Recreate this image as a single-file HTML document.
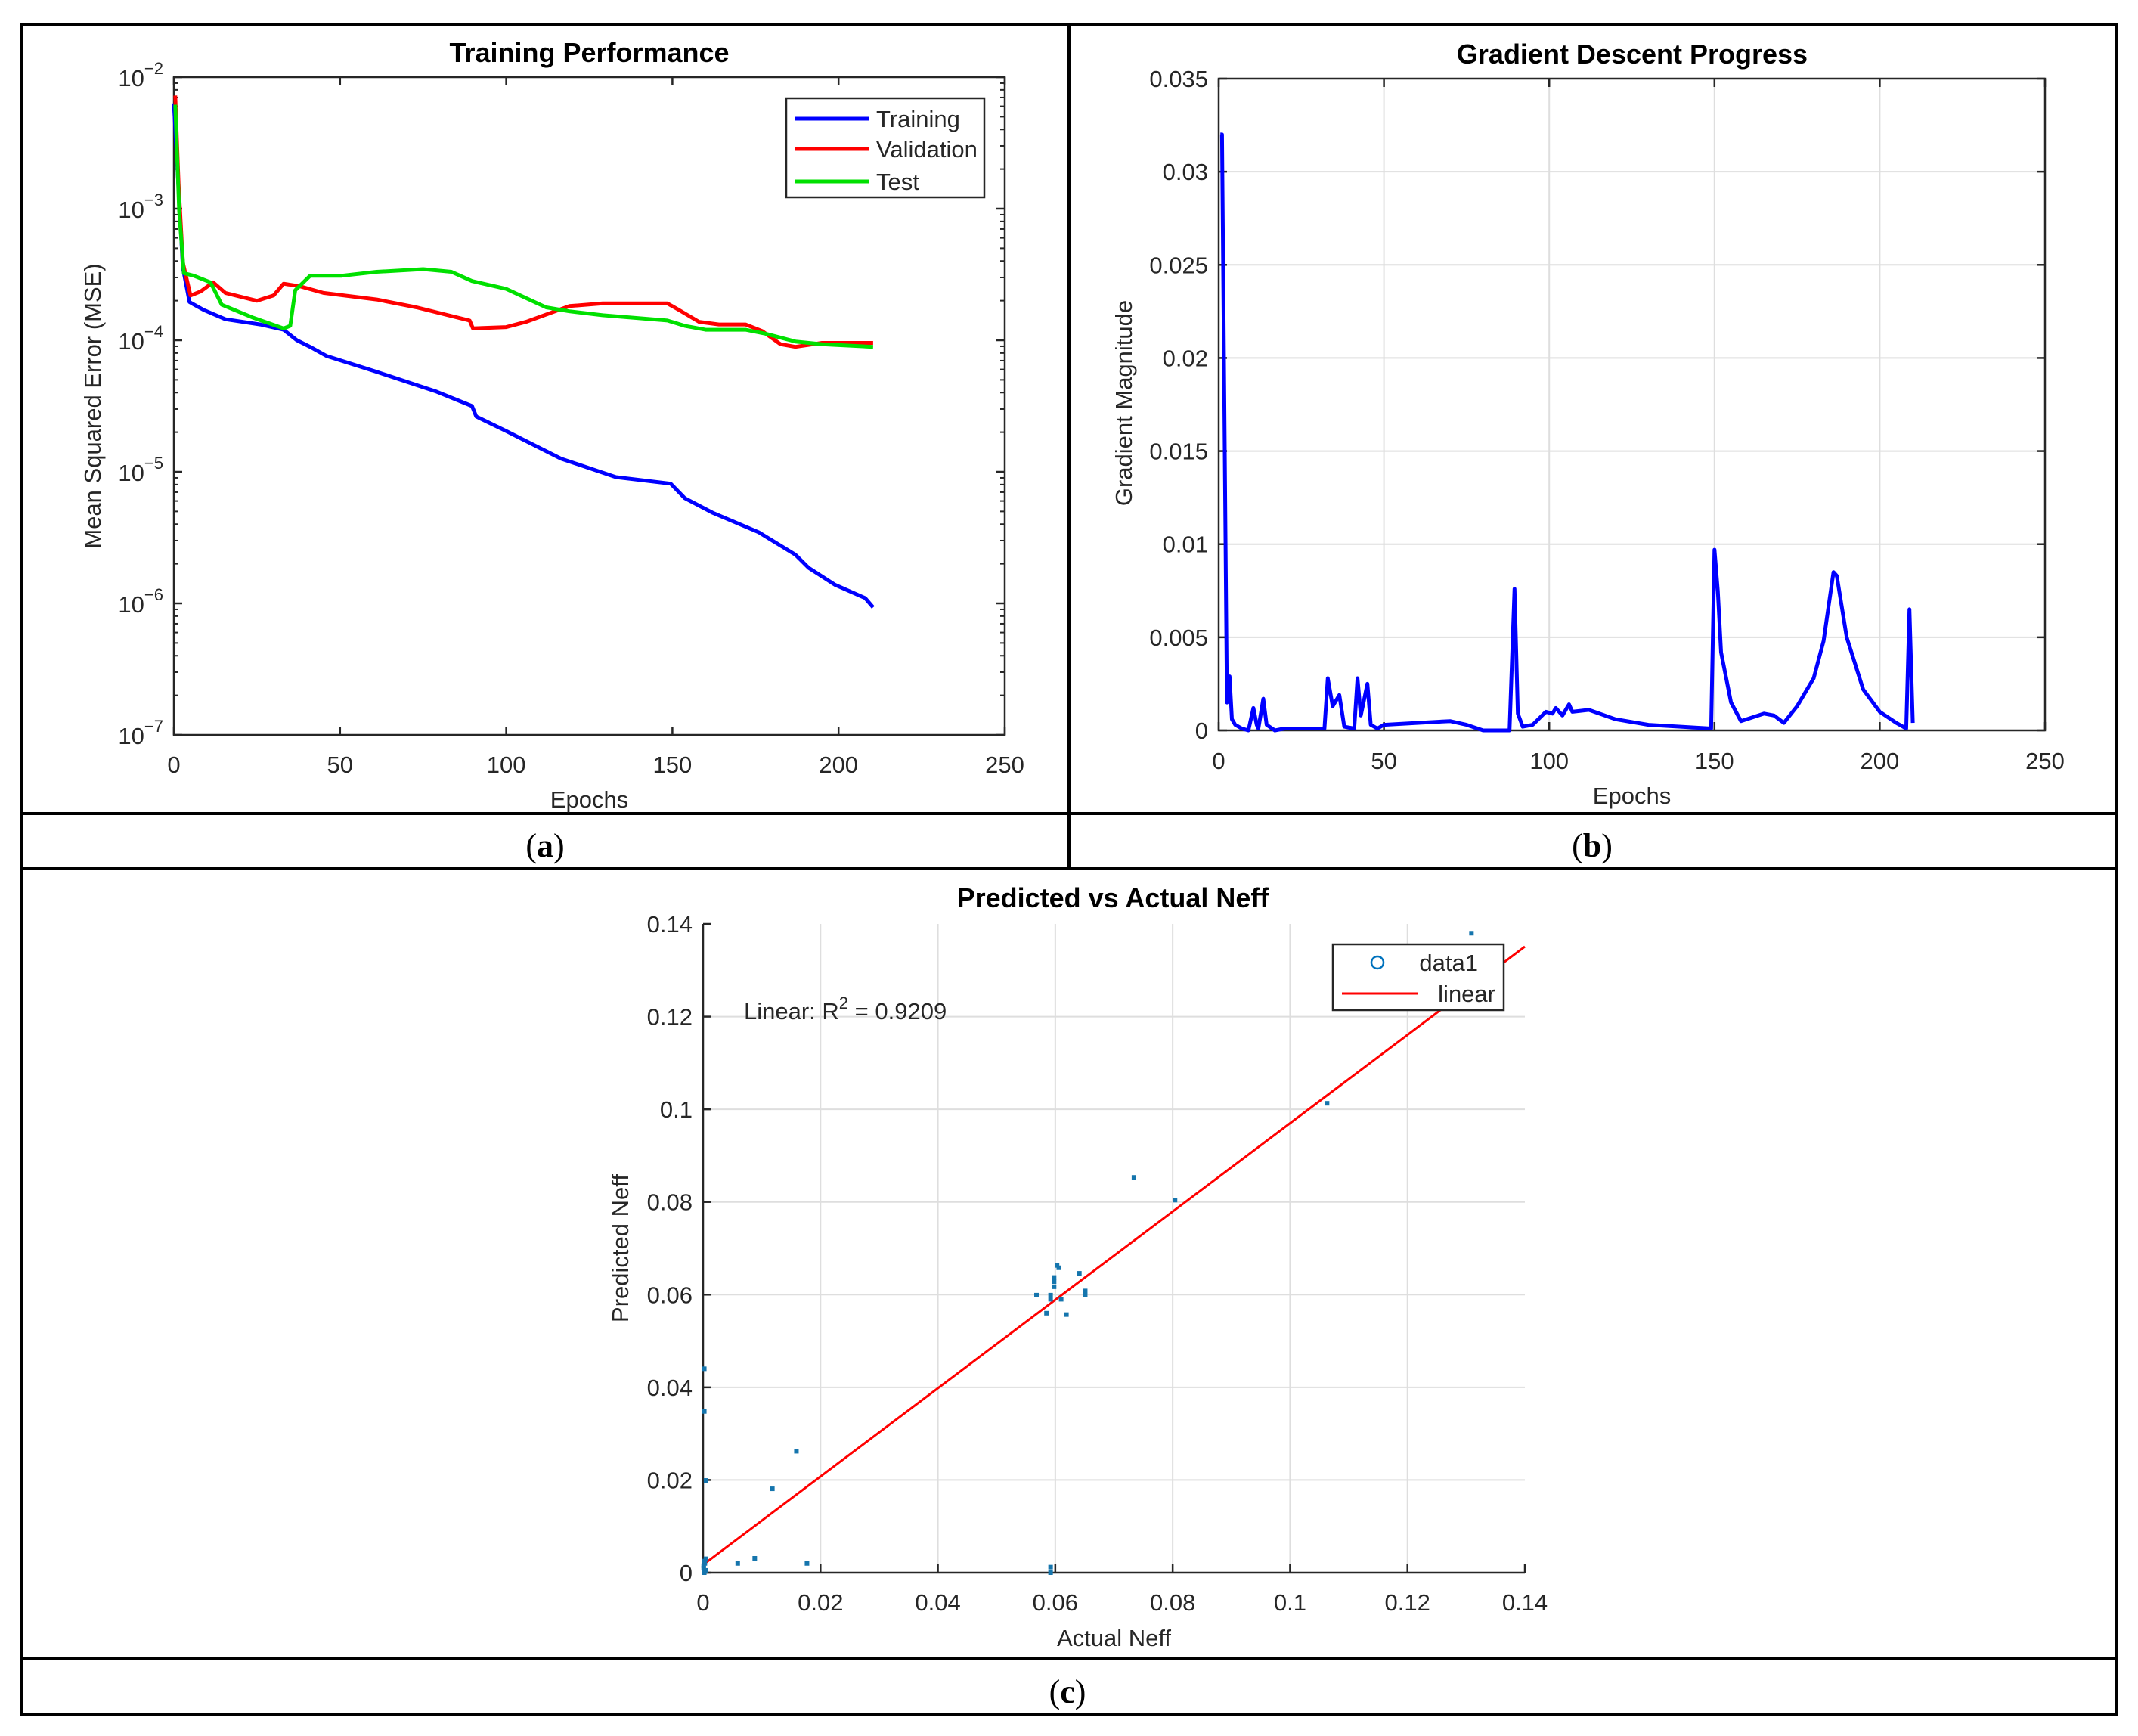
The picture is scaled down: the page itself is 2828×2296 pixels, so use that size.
<!DOCTYPE html>
<html><head><meta charset="utf-8"><style>
html,body{margin:0;padding:0;background:#fff}
svg{display:block}
text{font-family:"Liberation Sans",Arial,sans-serif;fill:#262626}
.t{font-size:31px}
.ttl{font-size:36px;font-weight:bold;fill:#000}
.cap{font-family:"Liberation Serif",serif;font-size:44px;fill:#000}
</style></head><body>
<svg id="s" width="2828" height="2296" viewBox="0 0 2828 2296" xmlns="http://www.w3.org/2000/svg">
<g stroke="#000" stroke-width="4" fill="none">
<rect x="29" y="32" width="2770" height="2235"/>
<line x1="29" y1="1076" x2="2799" y2="1076"/>
<line x1="29" y1="1149" x2="2799" y2="1149"/>
<line x1="29" y1="2193" x2="2799" y2="2193"/>
<line x1="1414" y1="32" x2="1414" y2="1149"/>
</g>
<text class="cap" x="721" y="1133" text-anchor="middle">(<tspan font-weight="bold">a</tspan>)</text>
<text class="cap" x="2106" y="1133" text-anchor="middle">(<tspan font-weight="bold">b</tspan>)</text>
<text class="cap" x="1412" y="2252" text-anchor="middle">(<tspan font-weight="bold">c</tspan>)</text>
<g id="ga"></g>
<g id="gb"></g>
<g id="gc"></g>
</svg>
<script>
// ---- chart a data ----
const trainEpochs=[0,2.7,4.7,9,15.5,26,33,37,41,46,61,79,89.7,91,100,116.5,133,149.5,153.7,162,176,187,191,199,208,210.4];
const trainLog=[-2.2,-3.45,-3.71,-3.77,-3.84,-3.88,-3.92,-4.0,-4.05,-4.12,-4.24,-4.39,-4.5,-4.58,-4.69,-4.9,-5.04,-5.09,-5.2,-5.31,-5.46,-5.63,-5.73,-5.86,-5.96,-6.03];
const valEpochs=[0.4,1.4,2.7,5,8,11.8,15.5,25,30,33,38,45,61,73,89,90,100,106,119,129,148.5,152,158,164,172,177,182.5,187,195,210.4];
const valLog=[-2.14,-2.81,-3.41,-3.66,-3.63,-3.56,-3.64,-3.70,-3.66,-3.57,-3.59,-3.64,-3.69,-3.75,-3.85,-3.91,-3.90,-3.86,-3.74,-3.72,-3.72,-3.77,-3.86,-3.88,-3.88,-3.93,-4.03,-4.05,-4.02,-4.02];
const testEpochs=[0.4,1.6,3,6,11,14.4,24,33,35,36.5,41,50.5,61,75,83.5,89.7,100,112,119,129,148.5,153.7,160,172,178,187,195,210.4];
const testLog=[-2.21,-3.02,-3.49,-3.51,-3.56,-3.73,-3.83,-3.91,-3.89,-3.62,-3.51,-3.51,-3.48,-3.46,-3.48,-3.55,-3.61,-3.75,-3.78,-3.81,-3.85,-3.89,-3.92,-3.92,-3.95,-4.01,-4.03,-4.05];
const aXTicks=[0,50,100,150,200,250];
const aYExps=[-2,-3,-4,-5,-6,-7];
// ---- chart b data ----
const gradEpochs=[0.5,1,2.5,3.3,4,5,7,9,10.5,11.5,12,13.5,14.5,17,20,32,33,34.5,36.5,38,41,42,43,45,46,48,50,60,70,75,80,88,89.5,90.5,92,95,99,101,102,104,106,107,112,120,130,149,150,151,152,155,158,165,168,171,175,180,183,186,187,190,195,200,205,208,209,210];
const gradVals=[0.032,0.032,0.0015,0.0029,0.0006,0.0003,0.0001,0.0,0.0012,0.0003,0.0001,0.0017,0.0003,0.0,0.0001,0.0001,0.0028,0.0013,0.0019,0.0002,0.0001,0.0028,0.0008,0.0025,0.0003,0.0001,0.0003,0.0004,0.0005,0.0003,0.0,0.0,0.0076,0.0009,0.0002,0.0003,0.0010,0.0009,0.0012,0.0008,0.0014,0.0010,0.0011,0.0006,0.0003,0.0001,0.0097,0.0075,0.0042,0.0015,0.0005,0.0009,0.0008,0.0004,0.0013,0.0028,0.0048,0.0085,0.0083,0.0050,0.0022,0.0010,0.0004,0.0001,0.0065,0.0004];
const bXTicks=[0,50,100,150,200,250];
const bYTicks=[0,0.005,0.01,0.015,0.02,0.025,0.03,0.035];
const bYLabels=["0","0.005","0.01","0.015","0.02","0.025","0.03","0.035"];
// ---- chart c data ----
const actualVals=[0.1309,0.1063,0.0734,0.0804,0.0603,0.0606,0.0598,0.0598,0.0598,0.0641,0.0568,0.0592,0.0592,0.061,0.0651,0.0651,0.0585,0.0619,0.0592,0.0592,0.0002,0.0002,0.0005,0.0159,0.0118,0.0088,0.0059,0.0177,0.0002,0.0003,0.0001,0.0004,0.0002,0.0005,0.0001];
const predictedVals=[0.1380,0.1013,0.0853,0.0804,0.0663,0.0658,0.0637,0.0628,0.0617,0.0646,0.0599,0.0599,0.059,0.059,0.0608,0.0599,0.056,0.0557,0.0012,0.0,0.044,0.0348,0.0199,0.0262,0.0181,0.0031,0.002,0.002,0.0025,0.002,0.001,0.0005,0.0,0.003,0.0015];
const fitIntercept=0.0017, fitSlope=0.953;
const cTicks=[0,0.02,0.04,0.06,0.08,0.1,0.12,0.14];
const cLabels=["0","0.02","0.04","0.06","0.08","0.1","0.12","0.14"];

const NS="http://www.w3.org/2000/svg";
function mk(parent,tag,attrs,txt){const e=document.createElementNS(NS,tag);for(const k in attrs)e.setAttribute(k,attrs[k]);if(txt!==undefined)e.textContent=txt;parent.appendChild(e);return e;}

// ===== Chart A =====
(function(){
const g=document.getElementById('ga');
const L=230,R=1329,T=102,B=972;
const xs=e=>L+(e-0)/250*(R-L);
const ys=lg=>T+(-2-lg)/5*(B-T);
const t1=mk(g,'text',{class:'ttl',x:(L+R)/2,y:82,'text-anchor':'middle'},'Training Performance');

const ax=mk(g,'rect',{x:L,y:T,width:R-L,height:B-T,fill:'none',stroke:'#262626','stroke-width':2.5});

aXTicks.forEach(v=>{const x=xs(v);
 mk(g,'line',{x1:x,y1:B,x2:x,y2:B-11,stroke:'#262626','stroke-width':2.5});
 mk(g,'line',{x1:x,y1:T,x2:x,y2:T+11,stroke:'#262626','stroke-width':2.5});
 const t=mk(g,'text',{class:'t',x:x,y:1022,'text-anchor':'middle'},String(v));
 });
aYExps.forEach((ex,i)=>{const y=ys(ex);
 mk(g,'line',{x1:L,y1:y,x2:L+11,y2:y,stroke:'#262626','stroke-width':2.5});
 mk(g,'line',{x1:R,y1:y,x2:R-11,y2:y,stroke:'#262626','stroke-width':2.5});
 const t=mk(g,'text',{class:'t',x:L-14,y:y+12,'text-anchor':'end'});
 
 mk(t,'tspan',{},'10');mk(t,'tspan',{dy:-16,'font-size':'22px'},'\u2212'+Math.abs(ex));
 if(i<aYExps.length-1){for(let m=2;m<=9;m++){const yy=ys(ex-1+Math.log10(m));
  mk(g,'line',{x1:L,y1:yy,x2:L+6,y2:yy,stroke:'#262626','stroke-width':2});
  mk(g,'line',{x1:R,y1:yy,x2:R-6,y2:yy,stroke:'#262626','stroke-width':2});}}});
const xl=mk(g,'text',{class:'t',x:(L+R)/2,y:1068,'text-anchor':'middle'},'Epochs');

const yl=mk(g,'text',{class:'t',x:0,y:0,'text-anchor':'middle',transform:`translate(133,${(T+B)/2}) rotate(-90)`},'Mean Squared Error (MSE)');

function series(ep,lv,col,name){const d=ep.map((e,i)=>(i?'L':'M')+xs(e).toFixed(1)+','+ys(lv[i]).toFixed(1)).join(' ');
 const p=mk(g,'path',{d:d,fill:'none',stroke:col,'stroke-width':5,'stroke-linejoin':'round'});
 }
series(trainEpochs,trainLog,'#0000ff','training-line');
series(valEpochs,valLog,'#ff0000','validation-line');
series(testEpochs,testLog,'#00e000','test-line');
const lg=mk(g,'g',{});
mk(lg,'rect',{x:1040,y:130,width:262,height:131,fill:'#fff',stroke:'#262626','stroke-width':2.5});
[['Training','#0000ff',157],['Validation','#ff0000',197],['Test','#00e000',240]].forEach(r=>{
 mk(lg,'line',{x1:1051,y1:r[2],x2:1150,y2:r[2],stroke:r[1],'stroke-width':5});
 const t=mk(lg,'text',{class:'t',x:1159,y:r[2]+11},r[0]);});
})();

// ===== Chart B =====
(function(){
const g=document.getElementById('gb');
const L=1612,R=2705,T=104,B=966;
const xs=e=>L+e/250*(R-L);
const ys=v=>B-v/0.035*(B-T);
const t1=mk(g,'text',{class:'ttl',x:2159,y:84,'text-anchor':'middle'},'Gradient Descent Progress');

bXTicks.forEach(v=>{const x=xs(v);
 if(v>0&&v<250)mk(g,'line',{x1:x,y1:T,x2:x,y2:B,stroke:'#dedede','stroke-width':2});
 mk(g,'line',{x1:x,y1:B,x2:x,y2:B-11,stroke:'#262626','stroke-width':2.5});
 mk(g,'line',{x1:x,y1:T,x2:x,y2:T+11,stroke:'#262626','stroke-width':2.5});
 const t=mk(g,'text',{class:'t',x:x,y:1017,'text-anchor':'middle'},String(v));
 });
bYTicks.forEach((v,i)=>{const y=ys(v);
 if(v>0&&v<0.035)mk(g,'line',{x1:L,y1:y,x2:R,y2:y,stroke:'#dedede','stroke-width':2});
 mk(g,'line',{x1:L,y1:y,x2:L+11,y2:y,stroke:'#262626','stroke-width':2.5});
 mk(g,'line',{x1:R,y1:y,x2:R-11,y2:y,stroke:'#262626','stroke-width':2.5});
 const t=mk(g,'text',{class:'t',x:L-14,y:y+11,'text-anchor':'end'},bYLabels[i]);
 });
const ax=mk(g,'rect',{x:L,y:T,width:R-L,height:B-T,fill:'none',stroke:'#262626','stroke-width':2.5});

const xl=mk(g,'text',{class:'t',x:(L+R)/2,y:1063,'text-anchor':'middle'},'Epochs');

const yl=mk(g,'text',{class:'t',x:0,y:0,'text-anchor':'middle',transform:`translate(1497,533) rotate(-90)`},'Gradient Magnitude');

const d=gradEpochs.map((e,i)=>(i?'L':'M')+xs(e).toFixed(1)+','+ys(gradVals[i]).toFixed(1)).join(' ');
const p=mk(g,'path',{d:d,fill:'none',stroke:'#0000ff','stroke-width':5,'stroke-linejoin':'round'});

})();

// ===== Chart C =====
(function(){
const g=document.getElementById('gc');
const L=930,R=2017,T=1222,B=2080;
const xs=v=>L+v/0.14*(R-L);
const ys=v=>B-v/0.14*(B-T);
const t1=mk(g,'text',{class:'ttl',x:1472,y:1200,'text-anchor':'middle'},'Predicted vs Actual Neff');

cTicks.forEach((v,i)=>{const x=xs(v),y=ys(v);
 if(v>0&&v<0.14){mk(g,'line',{x1:x,y1:T,x2:x,y2:B,stroke:'#dedede','stroke-width':2});
  mk(g,'line',{x1:L,y1:y,x2:R,y2:y,stroke:'#dedede','stroke-width':2});}
 mk(g,'line',{x1:x,y1:B,x2:x,y2:B-11,stroke:'#262626','stroke-width':2.5});
 mk(g,'line',{x1:L,y1:y,x2:L+11,y2:y,stroke:'#262626','stroke-width':2.5});
 const tx=mk(g,'text',{class:'t',x:x,y:2130,'text-anchor':'middle'},cLabels[i]);
 
 const ty=mk(g,'text',{class:'t',x:L-14,y:y+11,'text-anchor':'end'},cLabels[i]);
 });
mk(g,'line',{x1:L,y1:T,x2:L,y2:B,stroke:'#262626','stroke-width':2.5});
mk(g,'line',{x1:L,y1:B,x2:R,y2:B,stroke:'#262626','stroke-width':2.5});
const xl=mk(g,'text',{class:'t',x:(L+R)/2,y:2177,'text-anchor':'middle'},'Actual Neff');

const yl=mk(g,'text',{class:'t',x:0,y:0,'text-anchor':'middle',transform:`translate(831,1651) rotate(-90)`},'Predicted Neff');

const fl=mk(g,'line',{x1:xs(0),y1:ys(fitIntercept),x2:xs(0.14),y2:ys(fitIntercept+fitSlope*0.14),stroke:'#ff0000','stroke-width':3});

actualVals.forEach((a,i)=>{const c=mk(g,'rect',{x:xs(a)-3,y:ys(predictedVals[i])-3,width:6,height:6,fill:'#1575ad'});
 });
const an=mk(g,'text',{class:'t',x:984,y:1348,fill:'#000'});

mk(an,'tspan',{},'Linear: R');mk(an,'tspan',{dy:-14,'font-size':'22px'},'2');mk(an,'tspan',{dy:14},' = 0.9209');
const lg=mk(g,'g',{});
mk(lg,'rect',{x:1763,y:1249,width:226,height:87,fill:'#fff',stroke:'#262626','stroke-width':2.5});
mk(lg,'circle',{cx:1822,cy:1273,r:8,fill:'none',stroke:'#0072bd','stroke-width':2.5});
const t1e=mk(lg,'text',{class:'t',x:1955,y:1284,'text-anchor':'end'},'data1');
mk(lg,'line',{x1:1775,y1:1314,x2:1875,y2:1314,stroke:'#ff0000','stroke-width':3});
const t2e=mk(lg,'text',{class:'t',x:1978,y:1325,'text-anchor':'end'},'linear');
})();
</script>
</body></html>
